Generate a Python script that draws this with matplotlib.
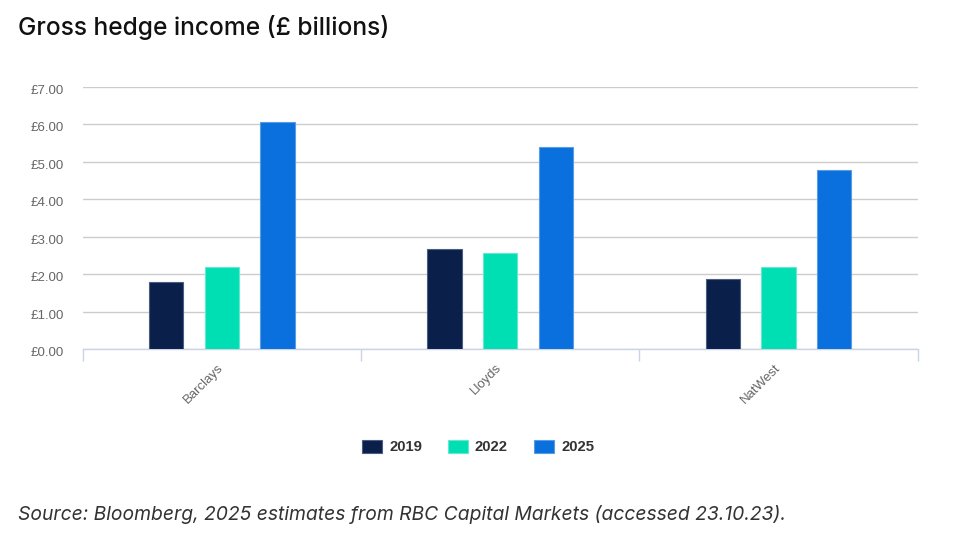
import matplotlib
matplotlib.use("Agg")
import matplotlib.pyplot as plt
from matplotlib import font_manager as fm
from matplotlib.patches import Patch
from matplotlib.transforms import ScaledTranslation
import numpy as np

banks = ["Barclays", "Lloyds", "NatWest"]
years = ["2019", "2022", "2025"]
v2019 = [1.78, 2.68, 1.88]
v2022 = [2.18, 2.57, 2.18]
v2025 = [6.06, 5.40, 4.78]
yticks = [0, 1, 2, 3, 4, 5, 6, 7]
ytick_labels = ["£0.00", "£1.00", "£2.00", "£3.00", "£4.00", "£5.00", "£6.00", "£7.00"]
colors = ["#0a1f4a", "#00dfb4", "#0a70dd"]
edges = ["#4a5d82", "#62e9cf", "#5a9be6"]

title = "Gross hedge income (£ billions)"
source = "Source: Bloomberg, 2025 estimates from RBC Capital Markets (accessed 23.10.23)."

names_italic = {}
for f in fm.fontManager.ttflist:
    if f.style == "italic":
        names_italic.setdefault(f.name, True)
ital_family = "Inter" if "Inter" in names_italic else ("Roboto" if "Roboto" in names_italic else "DejaVu Sans")

fig = plt.figure(figsize=(9.59, 5.5), dpi=100)
ax = fig.add_axes([0.0862, 0.3655, 0.9569 - 0.0862, 0.8418 - 0.3655])

x = np.arange(len(banks))
bw = 0.123
series = [v2019, v2022, v2025]
for i, (vals, c, e) in enumerate(zip(series, colors, edges)):
    ax.bar(x + (i - 1) * 0.2, vals, width=bw, color=c, edgecolor=e, linewidth=0.8, zorder=3)

ax.set_xlim(-0.5, len(banks) - 0.5)
ax.set_ylim(0, 7)
ax.set_yticks(yticks)
ax.set_yticklabels(ytick_labels, family="Liberation Sans", fontsize=9.5, color="#666666")
ax.tick_params(axis="y", length=0, pad=13.5)
off = ScaledTranslation(0, -2.5 / 100, fig.dpi_scale_trans)
for lab in ax.get_yticklabels():
    lab.set_transform(lab.get_transform() + off)
ax.yaxis.grid(True, color="#cccccc", linewidth=1.0, zorder=0)
ax.set_axisbelow(True)

ax.set_xticks(x)
ax.set_xticklabels(banks, family="Liberation Sans", fontsize=9.5, color="#666666",
                   rotation=45, ha="right", va="center", rotation_mode="anchor")
ax.tick_params(axis="x", which="major", length=0, pad=12)
ax.set_xticks(np.arange(-0.5, len(banks), 1.0), minor=True)
ax.tick_params(axis="x", which="minor", length=8.6, width=1, color="#c9d5e6")

for s in ["top", "right", "left"]:
    ax.spines[s].set_visible(False)
ax.spines["bottom"].set_color("#c9d5e6")
ax.spines["bottom"].set_linewidth(1)

handles = [Patch(facecolor=c, edgecolor=e, linewidth=0.8) for c, e in zip(colors, edges)]
fig.legend(handles, years, loc="center", bbox_to_anchor=(478 / 959, 1 - 447 / 550),
           ncol=3, frameon=False, handlelength=1.37, handleheight=1.0,
           handletextpad=0.45, columnspacing=1.75,
           prop={"family": "Liberation Sans", "weight": "bold", "size": 10.7},
           labelcolor="#333333")

fig.text(18 / 959, 1 - 28 / 550, title, family=["Inter", "DejaVu Sans"], fontsize=17.7,
         fontweight=500, color="#111111", ha="left", va="center")
fig.text(18 / 959, 1 - 515 / 550, source, family=[ital_family, "DejaVu Sans"], style="italic",
         fontsize=13.9, color="#333333", ha="left", va="center")

fig.savefig("out.png", dpi=100)
